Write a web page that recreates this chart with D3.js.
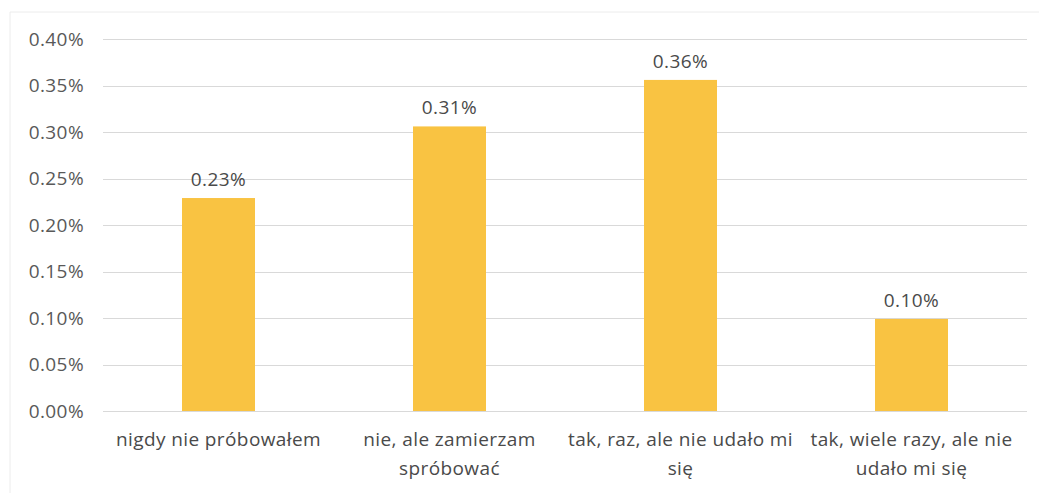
<!DOCTYPE html>
<html lang="pl">
<head>
<meta charset="UTF-8">
<title>Wykres</title>
<script src="https://d3js.org/d3.v7.min.js"></script>
<style>
    body { margin: 0; background: #ffffff; }
    svg { display: block; font-family: "Open Sans", Lato, sans-serif; }
    .grid line { stroke: #d9d9d9; stroke-width: 1px; }
    .tick-label { font-size: 19px; fill: #595959; letter-spacing: 0.4px; }
    .value-label { font-size: 19px; fill: #4a4a4a; letter-spacing: 0.4px; }
    .cat-label { font-size: 19px; fill: #4a4a4a; letter-spacing: 0.4px; }
</style>
</head>
<body>
<svg width="1039" height="493"></svg>
<script>
    // data (values in percent)
    const categories = [
        "nigdy nie próbowałem",
        "nie, ale zamierzam spróbować",
        "tak, raz, ale nie udało mi się",
        "tak, wiele razy, ale nie udało mi się"
    ];
    const values = [0.229, 0.306, 0.356, 0.099];
    const yTicks = [0, 0.05, 0.10, 0.15, 0.20, 0.25, 0.30, 0.35, 0.40];

    const svg = d3.select("svg");
    const margin = { left: 103, right: 12, top: 39, bottom: 82 };
    const width = 1039, height = 493;

    const x = d3.scaleBand()
        .domain(categories)
        .range([margin.left, width - margin.right])
        .paddingInner(0.684)
        .paddingOuter(0.342);

    const y = d3.scaleLinear()
        .domain([0, 0.40])
        .range([height - margin.bottom, margin.top]);

    // faint chart border
    svg.append("path")
        .attr("d", `M10,${height} V12 H${width}`)
        .attr("fill", "none")
        .attr("stroke", "#ececec");

    svg.append("g")
        .attr("class", "grid")
        .selectAll("line")
        .data(yTicks)
        .enter().append("line")
        .attr("x1", margin.left)
        .attr("x2", width - margin.right)
        .attr("y1", d => Math.round(y(d)) + 0.5)
        .attr("y2", d => Math.round(y(d)) + 0.5);

    svg.append("g")
        .selectAll("text")
        .data(yTicks)
        .enter().append("text")
        .attr("class", "tick-label")
        .attr("x", 84)
        .attr("y", d => y(d))
        .attr("dy", "0.35em")
        .attr("text-anchor", "end")
        .text(d => d3.format(".2f")(d) + "%");

    svg.append("g")
        .selectAll("rect")
        .data(values)
        .enter().append("rect")
        .attr("x", (d, i) => x(categories[i]))
        .attr("width", x.bandwidth())
        .attr("y", d => y(d))
        .attr("height", d => y(0) - y(d))
        .attr("fill", "#f9c342");

    svg.append("g")
        .selectAll("text")
        .data(values)
        .enter().append("text")
        .attr("class", "value-label")
        .attr("x", (d, i) => x(categories[i]) + x.bandwidth() / 2)
        .attr("y", d => y(d) - 12)
        .attr("text-anchor", "middle")
        .text(d => d3.format(".2f")(d) + "%");

    // category labels, wrapped to the band step
    const step = x.step();
    const catText = svg.append("g")
        .selectAll("text")
        .data(categories)
        .enter().append("text")
        .attr("class", "cat-label")
        .attr("text-anchor", "middle")
        .attr("x", d => x(d) + x.bandwidth() / 2)
        .attr("y", 446);

    catText.each(function(d) {
        const t = d3.select(this);
        const words = d.split(" ");
        let line = [];
        let tspan = t.append("tspan").attr("x", t.attr("x")).attr("dy", 0);
        words.forEach(w => {
            line.push(w);
            tspan.text(line.join(" "));
            if (tspan.node().getComputedTextLength() > step && line.length > 1) {
                line.pop();
                tspan.text(line.join(" "));
                line = [w];
                tspan = t.append("tspan").attr("x", t.attr("x")).attr("dy", 29).text(w);
            }
        });
    });
</script>
</body>
</html>
